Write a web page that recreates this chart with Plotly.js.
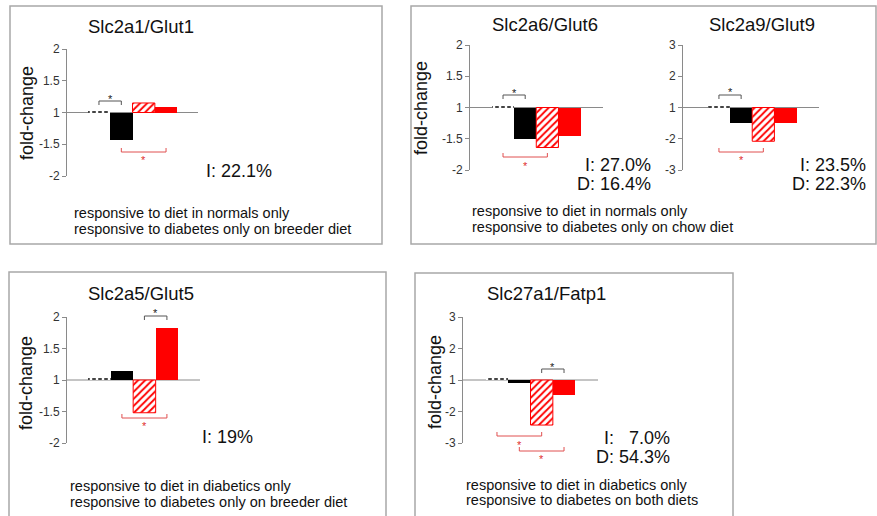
<!DOCTYPE html>
<html>
<head>
<meta charset="utf-8">
<script src="https://cdn.plot.ly/plotly-3.0.1.min.js"></script>
<style>
html,body{margin:0;padding:0;background:#fff;}
#chart{width:877px;height:516px;}
</style>
</head>
<body>
<div id="chart"></div>
<script>
// ---------- DATA (fold-change, signed) ----------
const groups = ['Normal (reference)', 'Normal', 'Diabetic (hatched)', 'Diabetic'];
const glut1 = [1.03, -1.44, 1.15, 1.09];
const glut6 = [1.03, -1.51, -1.64, -1.45];
const glut9 = [1.06, -1.51, -2.08, -1.51];
const glut5 = [1.03, 1.14, -1.52, 1.83];
const fatp1 = [1.06, -1.10, -2.43, -1.48];

const ticksSmall = [2, 1.5, 1, -1.5, -2];
const ticksLarge = [3, 2, 1, -2, -3];

const titles = ['Slc2a1/Glut1', 'Slc2a6/Glut6', 'Slc2a9/Glut9', 'Slc2a5/Glut5', 'Slc27a1/Fatp1'];
const statsGlut1 = ['I: 22.1%'];
const statsGlut6 = ['I: 27.0%', 'D: 16.4%'];
const statsGlut9 = ['I: 23.5%', 'D: 22.3%'];
const statsGlut5 = ['I: 19%'];
const statsFatp1 = ['I:\u00a0\u00a0\u00a07.0%', 'D: 54.3%'];
const notes1 = ['responsive to diet in normals only', 'responsive to diabetes only on breeder diet'];
const notes2 = ['responsive to diet in normals only', 'responsive to diabetes only on chow diet'];
const notes3 = ['responsive to diet in diabetics only', 'responsive to diabetes only on breeder diet'];
const notes4 = ['responsive to diet in diabetics only', 'responsive to diabetes on both diets'];

// fold-change -> plotted coordinate (1 is the baseline, symmetric up/down)
function foldToY(f) { return f >= 0 ? f - 1 : f + 1; }

// ---------- LAYOUT ----------
const W = 877, H = 516;
const FONT = 'Liberation Sans, Arial, Helvetica, sans-serif';
const px = x => x / W;
const py = y => 1 - y / H;

const panels = [
  {vals: glut1, xd: [67, 198], yd: [49, 176], xr: [-1.43, 4.43], yr: [-1, 1], ticks: ticksSmall},
  {vals: glut6, xd: [470, 603], yd: [45, 170], xr: [-1.49, 4.51], yr: [-1, 1], ticks: ticksSmall},
  {vals: glut9, xd: [683, 819], yd: [45, 170], xr: [-1.62, 4.51], yr: [-2, 2], ticks: ticksLarge},
  {vals: glut5, xd: [67, 200], yd: [317, 443], xr: [-1.44, 4.47], yr: [-1, 1], ticks: ticksSmall},
  {vals: fatp1, xd: [463, 598], yd: [317, 443], xr: [-1.52, 4.52], yr: [-2, 2], ticks: ticksLarge}
];

// bar styles, one per group
const styles = [
  {color: '#ffffff', line: {color: '#000', width: 0}, pattern: {shape: '|', fgcolor: '#444', bgcolor: '#ffffff', size: 6, solidity: 0.6, fillmode: 'replace'}},
  {color: '#000000', line: {color: '#000', width: 0}},
  {color: '#ffffff', line: {color: '#ff0000', width: 1}, pattern: {shape: '/', fgcolor: '#ff0000', bgcolor: '#ffffff', size: 5, solidity: 0.38, fillmode: 'replace'}},
  {color: '#ff0000', line: {color: '#ff0000', width: 0}}
];

function xPix(p, i) { return p.xd[0] + (i - p.xr[0]) / (p.xr[1] - p.xr[0]) * (p.xd[1] - p.xd[0]); }
function yPix(p, v) { return p.yd[1] - (v - p.yr[0]) / (p.yr[1] - p.yr[0]) * (p.yd[1] - p.yd[0]); }

const data = [];
const layout = {
  width: W, height: H,
  margin: {l: 0, r: 0, t: 0, b: 0},
  paper_bgcolor: '#fff', plot_bgcolor: 'rgba(0,0,0,0)',
  showlegend: false,
  barmode: 'overlay',
  bargap: 0,
  font: {family: FONT, color: '#222'},
  shapes: [], annotations: []
};

panels.forEach((p, k) => {
  const n = k === 0 ? '' : String(k + 1);
  p.vals.forEach((v, i) => {
    data.push({
      type: 'bar',
      x: [i],
      y: [foldToY(v)],
      name: groups[i],
      xaxis: 'x' + n, yaxis: 'y' + n,
      width: 1,
      marker: styles[i]
    });
  });
  layout['xaxis' + n] = {
    domain: [px(p.xd[0]), px(p.xd[1])], range: p.xr, visible: false,
    anchor: 'y' + n, fixedrange: true
  };
  layout['yaxis' + n] = {
    domain: [py(p.yd[1]), py(p.yd[0])], range: p.yr, anchor: 'x' + n,
    tickvals: p.ticks.map(foldToY), ticktext: p.ticks.map(String),
    showline: true, linecolor: '#8a8a8a', linewidth: 1,
    ticks: 'outside', ticklen: 4, tickcolor: '#8a8a8a',
    tickfont: {size: 12, color: '#333', family: FONT},
    showgrid: false, zeroline: false, fixedrange: true
  };
  layout.shapes.push({
    type: 'line', xref: 'paper', yref: 'paper', layer: 'below',
    x0: px(p.xd[0]), x1: px(p.xd[1]), y0: py(yPix(p, 0)), y1: py(yPix(p, 0)),
    line: {color: '#8a8a8a', width: 1}
  });
});

// panel frames
[[10, 6, 382, 244], [411, 6, 876, 244], [9, 272, 386, 522], [415, 273, 733, 522]].forEach(b => {
  layout.shapes.push({
    type: 'rect', xref: 'paper', yref: 'paper',
    x0: px(b[0]), x1: px(b[2]), y0: py(b[1]), y1: py(b[3]),
    line: {color: '#a8a8a8', width: 1.5}, fillcolor: 'rgba(0,0,0,0)'
  });
});

// significance brackets: panel, bar i, bar j, line y (px), ticks down?, star y (px), colour
const brackets = [
  [0, 0, 1, 101, true, 96, '#555'],
  [0, 1, 3, 152, false, 157, '#e05050'],
  [1, 0, 1, 95, true, 90, '#555'],
  [1, 0, 2, 157, false, 163, '#e05050'],
  [2, 0, 1, 95, true, 89, '#555'],
  [2, 0, 2, 152, false, 157, '#e05050'],
  [3, 2, 3, 316, true, 310, '#555'],
  [3, 1, 3, 418, false, 423, '#e05050'],
  [4, 2, 3, 369, true, 364, '#555'],
  [4, 0, 2, 436, false, 442, '#e05050'],
  [4, 1, 3, 451, false, 456, '#e05050']
];
brackets.forEach(b => {
  const p = panels[b[0]];
  const x1 = px(xPix(p, b[1])), x2 = px(xPix(p, b[2]));
  const yl = py(b[3]), yt = py(b[3] + (b[4] ? 4 : -4));
  layout.shapes.push({
    type: 'path', xref: 'paper', yref: 'paper',
    path: `M ${x1},${yt} L ${x1},${yl} L ${x2},${yl} L ${x2},${yt}`,
    line: {color: b[6], width: 1}
  });
  layout.annotations.push({
    xref: 'paper', yref: 'paper', x: (x1 + x2) / 2, y: py(b[5] + 3),
    text: '*', showarrow: false, xanchor: 'center', yanchor: 'middle',
    font: {size: 11, color: b[6] === '#555' ? '#222' : '#e03030', family: FONT}
  });
});

function ann(text, x, y, size, xanchor, extra) {
  layout.annotations.push(Object.assign({
    xref: 'paper', yref: 'paper', x: px(x), y: py(y), text: text,
    showarrow: false, xanchor: xanchor, yanchor: 'middle',
    font: {size: size, color: '#111', family: FONT}
  }, extra || {}));
}

ann(titles[0], 141, 27, 18.5, 'center');
ann(titles[1], 545, 25, 18.5, 'center');
ann(titles[2], 762, 25, 18.5, 'center');
ann(titles[3], 141, 293, 18.5, 'center');
ann(titles[4], 546, 293, 18.5, 'center');

[[27, 113], [421, 108], [26, 383], [435, 382]].forEach(c => {
  ann('fold-change', c[0], c[1], 18, 'center', {textangle: -90});
});

ann(statsGlut1[0], 204, 171, 18, 'left');
ann(statsGlut6[0], 653, 165, 18, 'right');
ann(statsGlut6[1], 653, 184, 18, 'right');
ann(statsGlut9[0], 868, 165, 18, 'right');
ann(statsGlut9[1], 868, 184, 18, 'right');
ann(statsGlut5[0], 200, 437, 18, 'left');
ann(statsFatp1[0], 672, 438, 18, 'right');
ann(statsFatp1[1], 672, 457, 18, 'right');

ann(notes1[0], 72, 213, 14.5, 'left'); ann(notes1[1], 72, 229, 14.5, 'left');
ann(notes2[0], 470, 211, 14.5, 'left'); ann(notes2[1], 470, 227, 14.5, 'left');
ann(notes3[0], 68, 486, 14.5, 'left'); ann(notes3[1], 68, 502, 14.5, 'left');
ann(notes4[0], 464, 485, 14.5, 'left'); ann(notes4[1], 464, 500, 14.5, 'left');

Plotly.newPlot('chart', data, layout, {staticPlot: true, displayModeBar: false});
</script>
</body>
</html>
